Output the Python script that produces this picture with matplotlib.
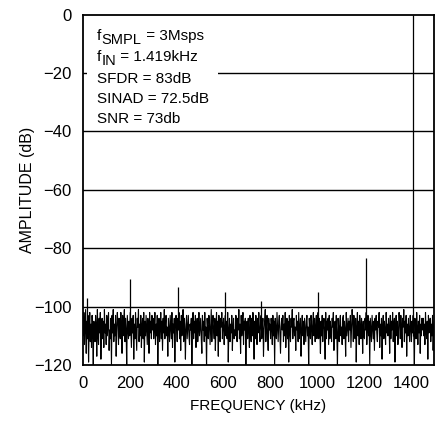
import numpy as np
import matplotlib
matplotlib.use("Agg")
import matplotlib.pyplot as plt
from matplotlib.patches import Rectangle

plt.rcParams['font.family'] = ['Liberation Sans', 'DejaVu Sans']

# ---------------- data ----------------
noise_db = [
 -104,-110,-102,-113,-107,-101,-116,-105,-111,-103,-119,-108,-102,-112,-106,-114,-103,-109,-120,-105,
 -108,-112,-103,-106,-117,-101,-110,-113,-104,-109,-102,-118,-107,-104,-111,-105,-114,-101,-109,-106,
 -113,-103,-110,-106,-102,-115,-108,-111,-104,-120,-103,-109,-101,-112,-106,-110,-103,-117,-107,-102,
 -106,-113,-104,-109,-111,-102,-107,-116,-103,-110,-105,-101,-112,-104,-108,-121,-103,-107,-111,-105,
 -110,-102,-108,-114,-104,-109,-103,-118,-106,-111,-102,-108,-115,-104,-107,-101,-112,-106,-110,-103,
 -114,-107,-104,-111,-102,-119,-105,-110,-103,-108,-113,-104,-107,-116,-102,-109,-105,-111,-103,-108,
 -104,-111,-107,-102,-113,-106,-110,-103,-120,-107,-104,-112,-108,-102,-111,-105,-115,-104,-109,-101,
 -111,-106,-103,-110,-107,-117,-104,-108,-112,-103,-107,-111,-102,-114,-106,-109,-104,-119,-107,-103,
 -108,-112,-104,-107,-102,-111,-105,-115,-103,-110,-107,-101,-112,-104,-108,-118,-106,-103,-111,-107,
 -103,-110,-113,-106,-108,-104,-120,-107,-102,-111,-105,-109,-103,-114,-107,-104,-112,-108,-102,-110,
 -107,-104,-111,-116,-103,-108,-105,-112,-102,-110,-107,-121,-104,-108,-111,-103,-106,-113,-107,-101,
 -112,-106,-103,-108,-111,-104,-115,-107,-102,-110,-105,-117,-103,-108,-112,-104,-107,-102,-111,-106,
 -104,-113,-107,-103,-110,-105,-111,-102,-119,-108,-104,-112,-106,-109,-103,-115,-107,-104,-111,-108,
 -110,-103,-107,-112,-104,-108,-101,-111,-106,-116,-103,-110,-107,-102,-113,-105,-108,-104,-120,-107,
 -105,-111,-104,-108,-114,-103,-107,-112,-104,-110,-102,-108,-118,-105,-111,-103,-107,-113,-104,-109,
 -102,-108,-112,-105,-103,-111,-107,-104,-117,-108,-105,-101,-112,-107,-103,-110,-115,-104,-108,-106,
 -111,-104,-107,-113,-103,-110,-105,-120,-104,-108,-111,-102,-107,-112,-105,-103,-110,-116,-107,-104,
 -108,-103,-112,-106,-110,-102,-114,-107,-104,-111,-105,-119,-103,-108,-112,-104,-107,-101,-111,-105,
 -104,-110,-107,-115,-103,-108,-105,-112,-102,-111,-107,-104,-117,-108,-103,-110,-105,-113,-104,-108,
 -112,-105,-103,-110,-107,-121,-104,-108,-111,-103,-107,-113,-105,-102,-110,-104,-112,-107,-103,-111,
 -107,-102,-111,-104,-108,-116,-105,-110,-103,-112,-107,-104,-108,-118,-102,-111,-105,-108,-104,-113,
 -103,-111,-105,-108,-112,-104,-107,-102,-115,-108,-105,-111,-103,-110,-120,-104,-107,-112,-105,-103,
 -110,-107,-113,-104,-103,-111,-105,-108,-117,-102,-110,-107,-104,-112,-105,-108,-103,-114,-107,-101,
 -105,-112,-103,-108,-111,-104,-119,-107,-102,-110,-105,-113,-103,-108,-111,-104,-107,-116,-105,-110,
 -111,-104,-108,-102,-113,-107,-103,-110,-105,-120,-104,-108,-112,-103,-107,-111,-105,-115,-104,-108,
 -103,-109,-112,-105,-107,-102,-114,-106,-110,-104,-118,-107,-103,-111,-105,-108,-113,-102,-109,-106,
 -110,-104,-107,-116,-103,-111,-105,-108,-102,-112,-106,-104,-119,-107,-103,-110,-105,-113,-108,-102,
 -106,-111,-103,-108,-114,-104,-107,-101,-112,-105,-109,-103,-117,-106,-110,-104,-108,-112,-103,-107,
 -112,-105,-109,-103,-110,-121,-104,-108,-111,-102,-107,-113,-105,-109,-103,-116,-106,-110,-104,-108,
 -104,-110,-106,-113,-102,-108,-111,-105,-118,-103,-109,-107,-104,-112,-106,-110,-103,-115,-107,-105,
]
spur_freq_khz = [17, 200, 405, 607, 760, 1005, 1210]
spur_amp_db = [-97, -90.6, -93.4, -95, -98, -95, -83.4]
fund_freq_khz = 1410
fund_amp_db = 0

x_ticks = [0, 200, 400, 600, 800, 1000, 1200, 1400]
y_ticks = [0, -20, -40, -60, -80, -100, -120]

# ---------------- figure ----------------
W, H = 443, 423
fig = plt.figure(figsize=(W / 100, H / 100), dpi=100)
L, R, T, B = 82.7, 434.3, 14.7, 365.0
ax = fig.add_axes([L / W, 1 - B / H, (R - L) / W, (B - T) / H])

freqs = np.linspace(0, 1500, len(noise_db))
ax.plot(freqs, noise_db, color='black', lw=0.8, zorder=3)
ax.vlines(spur_freq_khz, -108, spur_amp_db, color='black', lw=0.9, zorder=3)
ax.vlines([fund_freq_khz], -110, [fund_amp_db], color='black', lw=0.9, zorder=3)

for yv in y_ticks[1:-1]:
    ax.axhline(yv, color='black', lw=1.0, zorder=1)

ax.set_xlim(0, 1500)
ax.set_ylim(-120, 0)
ax.set_xticks(x_ticks)
ax.set_yticks(y_ticks)
ax.tick_params(length=0, labelsize=12, pad=8)
for s in ax.spines.values():
    s.set_linewidth(1.3)
    s.set_zorder(5)

ax.set_xlabel('FREQUENCY (kHz)', fontsize=11, labelpad=6)
ax.set_ylabel('AMPLITUDE (dB)', fontsize=11.5, labelpad=-1)

# white box behind the annotation text
aw, ah = R - L, B - T
ax.add_patch(Rectangle(((87 - L) / aw, (B - 128) / ah), (218 - 87) / aw, (128 - T) / ah,
                       transform=ax.transAxes, facecolor='white', edgecolor='none', zorder=2))

fs = 11
x0 = 97 / W
def chain(parts, baseline_px):
    t = fig.text(x0, 1 - baseline_px / H, parts[0], fontsize=fs, va='baseline', ha='left', zorder=6)
    t2 = ax.annotate(parts[1], xy=(1, 0), xycoords=t, xytext=(0.2, -3.0), textcoords='offset points',
                     fontsize=fs - 0.5, va='bottom', ha='left', zorder=6, annotation_clip=False)
    ax.annotate(parts[2], xy=(1, 0), xycoords=t2, xytext=(0, 3.0), textcoords='offset points',
                fontsize=fs, va='bottom', ha='left', zorder=6, annotation_clip=False)

chain(['f', 'SMPL', ' = 3Msps'], 40)
chain(['f', 'IN', ' = 1.419kHz'], 61)
for txt, bl in [('SFDR = 83dB', 83), ('SINAD = 72.5dB', 103), ('SNR = 73db', 123)]:
    fig.text(x0, 1 - bl / H, txt, fontsize=fs, va='baseline', ha='left', zorder=6)

fig.savefig('out.png', dpi=100)
